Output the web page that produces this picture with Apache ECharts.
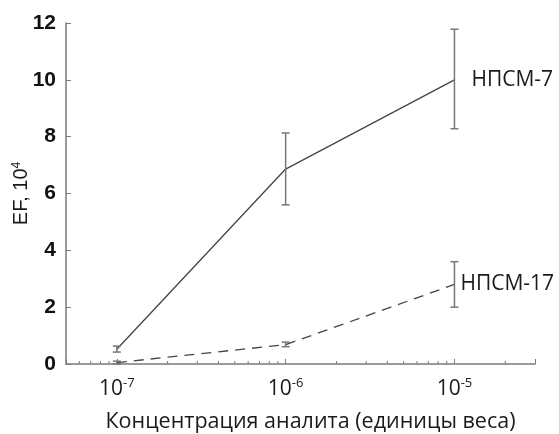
<!DOCTYPE html>
<html>
<head>
<meta charset="utf-8">
<script src="https://cdn.jsdelivr.net/npm/echarts@6/dist/echarts.min.js"></script>
<style>
  html, body { margin: 0; padding: 0; background: #fff; }
  #chart { width: 559px; height: 434px; }
</style>
</head>
<body>
<div id="chart"></div>
<script>
// concentrations (x, log scale)
const concentrations = [1e-7, 1e-6, 1e-5];

// НПСМ-7, EF x 10^4
const npsm7 = [0.52, 6.86, 10.0];
const npsm7Low = [0.42, 5.6, 8.28];
const npsm7High = [0.63, 8.13, 11.78];

// НПСМ-17
const npsm17 = [0.05, 0.68, 2.8];
const npsm17Low = [0.0, 0.61, 2.0];
const npsm17High = [0.1, 0.77, 3.6];

// log minor ticks on the x axis
const minorTicks = [6e-8, 7e-8, 8e-8, 9e-8,
  2e-7, 3e-7, 4e-7, 5e-7, 6e-7, 7e-7, 8e-7, 9e-7,
  2e-6, 3e-6, 4e-6, 5e-6, 6e-6, 7e-6, 8e-6, 9e-6,
  2e-5];

const axisColor = '#7a7a7a';
const lineColor = '#444';
const barColor = '#777';
const sansFont = 'Open Sans';

const chart = echarts.init(document.getElementById('chart'));

function toPairs(xs, ys) {
  return xs.map((x, i) => [x, ys[i]]);
}

function errorRows(lo, hi) {
  return concentrations.map((x, i) => [x, lo[i], hi[i]]);
}

function renderErrorBar(params, api) {
  const x = api.value(0);
  const lo = api.coord([x, api.value(1)]);
  const hi = api.coord([x, api.value(2)]);
  const half = 4;
  const style = { stroke: barColor, lineWidth: 1.5 };
  return {
    type: 'group',
    children: [
      { type: 'line', shape: { x1: lo[0], y1: lo[1], x2: hi[0], y2: hi[1] }, style },
      { type: 'line', shape: { x1: lo[0] - half, y1: lo[1], x2: lo[0] + half, y2: lo[1] }, style },
      { type: 'line', shape: { x1: hi[0] - half, y1: hi[1], x2: hi[0] + half, y2: hi[1] }, style },
    ],
  };
}

function renderMinorTick(params, api) {
  const p = api.coord([api.value(0), 0]);
  return {
    type: 'line',
    shape: { x1: p[0], y1: p[1], x2: p[0], y2: p[1] - 3 },
    style: { stroke: axisColor, lineWidth: 1 },
  };
}

chart.setOption({
  animation: false,
  backgroundColor: '#fff',
  grid: { left: 66, right: 24, top: 23, bottom: 70, containLabel: false, outerBoundsMode: 'none' },
  xAxis: {
    type: 'log',
    logBase: 10,
    min: 5e-8,
    max: 3e-5,
    name: 'Концентрация аналита (единицы веса)',
    nameLocation: 'middle',
    nameGap: 47,
    nameTextStyle: { fontFamily: sansFont, fontSize: 21.5, color: '#1a1a1a', padding: [0, 0, 0, 20] },
    axisLine: { lineStyle: { color: axisColor, width: 1.5 } },
    axisTick: { inside: true, length: 5, lineStyle: { color: axisColor } },
    splitLine: { show: false },
    axisLabel: {
      margin: 13,
      fontFamily: sansFont,
      fontSize: 21,
      color: '#1a1a1a',
      formatter: (v) => {
        const e = Math.log10(v);
        const r = Math.round(e);
        if (Math.abs(e - r) > 1e-6) return '';
        return '10{sup|' + r + '}';
      },
      rich: {
        sup: { fontFamily: sansFont, fontSize: 13, color: '#1a1a1a', verticalAlign: 'top', padding: [0, 0, 12, 0] },
      },
    },
  },
  yAxis: {
    type: 'value',
    min: 0,
    max: 12,
    interval: 2,
    name: 'EF, 10{sup|4}',
    nameLocation: 'middle',
    nameRotate: 90,
    nameGap: 34,
    nameMoveOverlap: false,
    nameTextStyle: {
      fontFamily: 'Liberation Sans',
      fontSize: 20,
      color: '#1a1a1a',
      rich: {
        sup: { fontFamily: 'Liberation Sans', fontSize: 12, color: '#1a1a1a', padding: [0, 0, 9, 0] },
      },
    },
    axisLine: { show: true, lineStyle: { color: axisColor, width: 1.5 } },
    axisTick: { show: true, inside: true, length: 5, lineStyle: { color: axisColor } },
    splitLine: { show: false },
    axisLabel: {
      margin: 10,
      fontFamily: 'Liberation Sans',
      fontWeight: 'bold',
      fontSize: 21,
      color: '#111',
      padding: [4, 0, 0, 0],
    },
  },
  series: [
    {
      name: 'НПСМ-7',
      type: 'line',
      data: toPairs(concentrations, npsm7),
      showSymbol: false,
      lineStyle: { color: lineColor, width: 1.3 },
      endLabel: {
        show: true,
        formatter: '{a}',
        distance: 17,
        fontFamily: sansFont,
        fontSize: 21,
        color: '#1a1a1a',
      },
      z: 3,
    },
    {
      name: 'НПСМ-17',
      type: 'line',
      data: toPairs(concentrations, npsm17),
      showSymbol: false,
      lineStyle: { color: lineColor, width: 1.3, type: [10, 7] },
      endLabel: {
        show: true,
        formatter: '{a}',
        distance: 6,
        fontFamily: sansFont,
        fontSize: 21,
        color: '#1a1a1a',
      },
      z: 3,
    },
    {
      type: 'custom',
      renderItem: renderErrorBar,
      data: errorRows(npsm7Low, npsm7High),
      encode: { x: 0, y: [1, 2] },
      z: 4,
    },
    {
      type: 'custom',
      renderItem: renderErrorBar,
      data: errorRows(npsm17Low, npsm17High),
      encode: { x: 0, y: [1, 2] },
      z: 4,
    },
    {
      type: 'custom',
      renderItem: renderMinorTick,
      data: minorTicks.map((v) => [v, 0]),
      encode: { x: 0, y: 1 },
      silent: true,
      z: 2,
    },
  ],
});

window.addEventListener('resize', () => chart.resize());
</script>
</body>
</html>
